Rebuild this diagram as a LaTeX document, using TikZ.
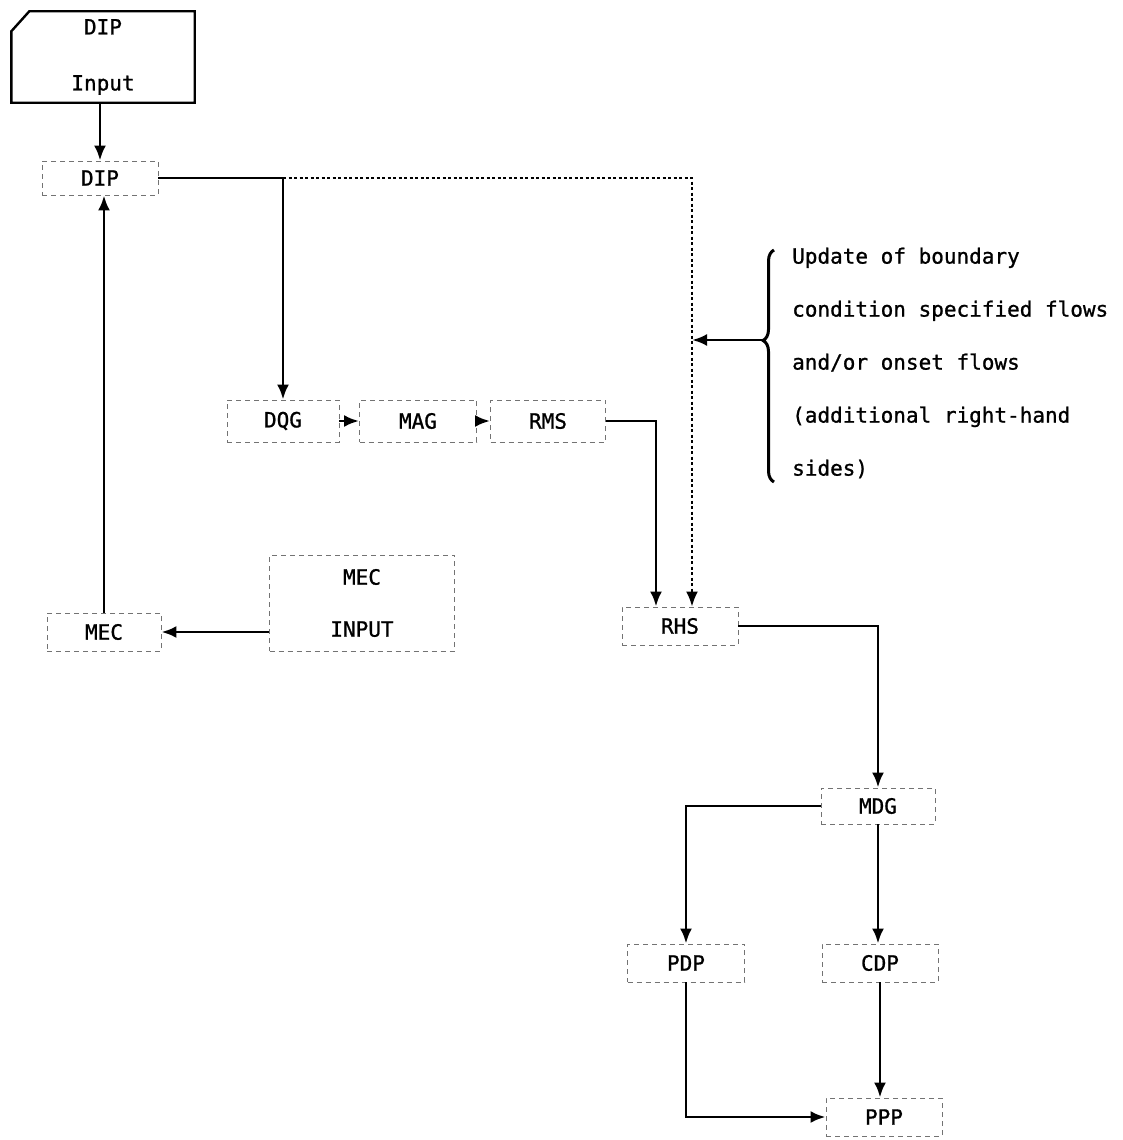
\documentclass[tikz,border=0pt]{standalone}
\usepackage{fontspec}
\setmonofont[FakeBold=1]{DejaVu Sans Mono}
\usetikzlibrary{arrows.meta,decorations.pathreplacing}

\begin{document}
\begin{tikzpicture}[x=1pt, y=-1pt,
    every node/.style={font=\ttfamily\fontsize{21}{25}\selectfont, inner sep=0pt},
    blk/.style={draw=black!55, line width=0.9pt, dash pattern=on 5pt off 4pt, minimum height=38pt},
    flow/.style={line width=2.8pt, -{Latex[length=15pt,width=12pt]}}]
    \useasboundingbox (0,0) rectangle (1123,1140);

    % input card and program blocks
    \node (card) [minimum width=183pt, minimum height=91pt, align=center] at (103,57) {DIP\\[31pt]Input};
    \draw[line width=2.4pt] (card.south west) -- (card.south east) -- (card.north east)
        -- ([xshift=18pt]card.north west) -- ([yshift=-20pt]card.north west) -- cycle;
    \node (dip) [blk, minimum width=116pt, minimum height=34pt] at (100,178) {DIP};
    \node (dqg) [blk, minimum width=112pt, minimum height=42pt] at (283,421) {DQG};
    \node (mag) [blk, minimum width=117pt, minimum height=42pt] at (418,421) {MAG};
    \node (rms) [blk, minimum width=115pt, minimum height=42pt] at (548,421) {RMS};
    \node (mec) [blk, minimum width=114pt] at (104,632) {MEC};
    \node (mecin) [blk, minimum width=185pt, minimum height=96pt, align=center] at (362,603) {MEC\\[27pt]INPUT};
    \node (rhs) [blk, minimum width=116pt] at (680,626) {RHS};
    \node (mdg) [blk, minimum width=114pt, minimum height=36pt] at (878,806) {MDG};
    \node (pdp) [blk, minimum width=117pt] at (686,963) {PDP};
    \node (cdp) [blk, minimum width=116pt] at (880,963) {CDP};
    \node (ppp) [blk, minimum width=116pt] at (884,1117) {PPP};

    % note with brace
    \node (note) [anchor=west, align=left, font=\ttfamily\fontsize{21}{53}\selectfont] at (792,363)
        {Update of boundary\\condition specified flows\\and/or onset flows\\(additional right-hand\\sides)};
    \draw[line width=3pt, decorate, decoration={brace, amplitude=11pt, aspect=0.61}] (774,482) -- (774,250);
    \coordinate (bracetip) at (763,340);
    \coordinate (upd) at ([xshift=12pt]rhs.north);

    % flow lines
    \draw[flow] (card.south -| dip.north) -- (dip.north);
    \draw[flow] (mec.north) -- (mec.north |- dip.south);
    \draw[flow] (dip.east) -| (dqg.north);
    \draw[flow, line width=2pt, dash pattern=on 3pt off 2.5pt] (dip.east -| dqg.north) -| (upd);
    \draw[flow] (bracetip) -- (bracetip -| upd);
    \draw[flow] (dqg) -- (mag);
    \draw[flow] (mag) -- (rms);
    \draw[flow] (rms.east) -| ([xshift=-24pt]rhs.north);
    \draw[flow] (mecin.west |- mec.east) -- (mec.east);
    \draw[flow] (rhs.east) -| (mdg.north);
    \draw[flow] (mdg.west) -| (pdp.north);
    \draw[flow] (mdg.south) -- (mdg.south |- cdp.north);
    \draw[flow] (cdp.south) -- (cdp.south |- ppp.north);
    \draw[flow] (pdp.south) |- (ppp.west);
\end{tikzpicture}
\end{document}
